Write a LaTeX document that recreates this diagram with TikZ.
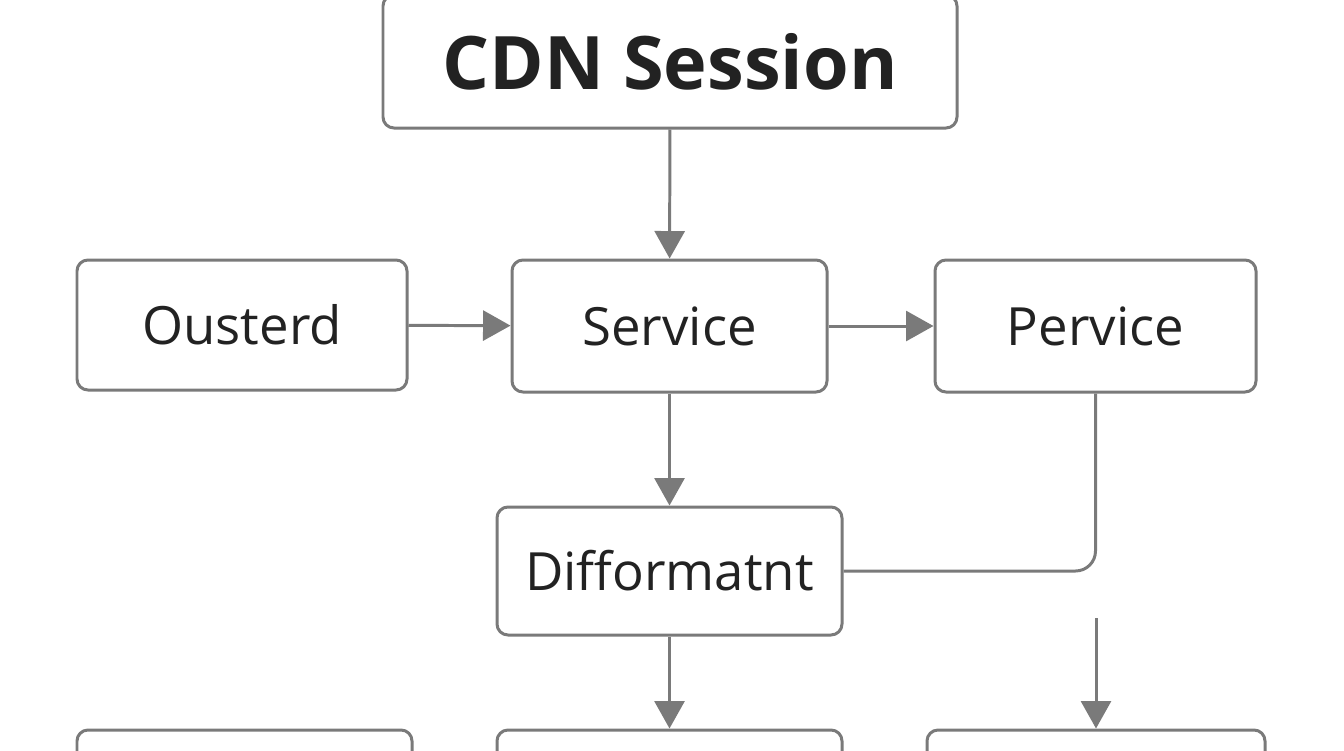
\documentclass[tikz,border=0pt]{standalone}
\usepackage{fontspec}
\setmainfont{Open Sans}
\usepackage{xcolor}
\usetikzlibrary{arrows.meta, positioning}
\definecolor{linegray}{HTML}{7A7A7A}
\definecolor{textdark}{HTML}{222222}

\begin{document}
\begin{tikzpicture}
    % Styles
    \tikzstyle{box} = [rectangle, rounded corners=0.22cm, draw=linegray, line width=1.7pt, fill=white, text=textdark, text centered, font=\fontsize{30}{34}\selectfont, inner sep=0pt]
    \tikzstyle{title} = [box, font=\fontsize{42}{46}\selectfont\bfseries]
    \tikzstyle{arrow} = [draw=linegray, line width=1.7pt, -{Triangle[length=0.55cm, width=0.6cm]}]
    \tikzstyle{link} = [draw=linegray, line width=1.7pt]

    \useasboundingbox (0,0) rectangle (26.88,-15);

    % Nodes - using absolute positioning
    \node[title, minimum width=11.48cm, minimum height=2.66cm] (cdn) at (13.4,-1.23) {CDN Session};
    \node[box, minimum width=6.6cm, minimum height=2.6cm] (ousterd) at (4.84,-6.5) {Ousterd};
    \node[box, minimum width=6.3cm, minimum height=2.64cm] (service) at (13.39,-6.52) {Service};
    \node[box, minimum width=6.42cm, minimum height=2.64cm] (pervice) at (21.91,-6.52) {Pervice};
    \node[box, minimum width=6.9cm, minimum height=2.56cm] (diff) at (13.39,-11.42) {Difformatnt};
    \node[box, minimum width=6.7cm, minimum height=2.6cm] (botleft) at (4.89,-15.9) {};
    \node[box, minimum width=6.9cm, minimum height=2.6cm] (botmid) at (13.39,-15.9) {};
    \node[box, minimum width=6.76cm, minimum height=2.6cm] (botright) at (21.92,-15.9) {};
    \coordinate (drop) at (21.92,-12.36);

    % Arrows
    \draw[arrow] (cdn) -- (service);
    \draw[arrow] (ousterd) -- (service);
    \draw[arrow] (service) -- (pervice);
    \draw[arrow] (service) -- (diff);
    \draw[arrow] (diff) -- (botmid);
    \draw[arrow] (drop) -- (botright.north);
    \draw[link, rounded corners=0.4cm] (pervice.south) |- (diff.east);
\end{tikzpicture}
\end{document}
